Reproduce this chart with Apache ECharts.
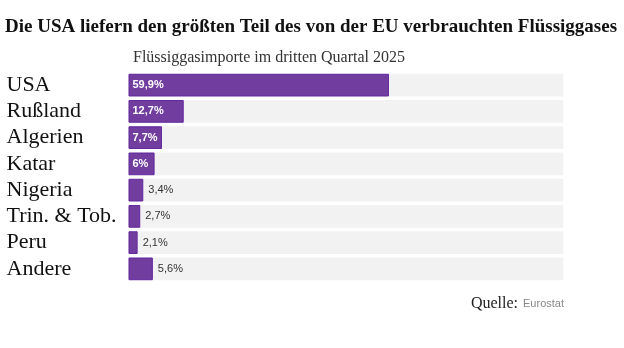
<!DOCTYPE html>
<html>
<head>
<meta charset="utf-8">
<script src="https://cdn.jsdelivr.net/npm/echarts@6/dist/echarts.min.js"></script>
<style>
  html, body { margin: 0; padding: 0; background: #fff; }
  #chart { width: 624px; height: 348px; }
</style>
</head>
<body>
<div id="chart"></div>
<script>
// LNG import shares by supplier country, Q3 2025 (percent)
const countries = ['USA', 'Rußland', 'Algerien', 'Katar', 'Nigeria', 'Trin. & Tob.', 'Peru', 'Andere'];
const shares = [59.9, 12.7, 7.7, 6, 3.4, 2.7, 2.1, 5.6];

const titleText = 'Die USA liefern den größten Teil des von der EU verbrauchten Flüssiggases';
const subtitleText = 'Flüssiggasimporte im dritten Quartal 2025';

const serif = '"Liberation Serif", "Times New Roman", serif';
const sans = '"Liberation Sans", Arial, sans-serif';

// Values wide enough to hold their label get it inside in white; the rest get it outside
const insideMin = 5.9;

const fmt = v => String(v).replace('.', ',') + '%';

const seriesData = shares.map(v => ({
  value: v,
  label: v >= insideMin
    ? { position: 'insideLeft', distance: 4, color: '#ffffff', fontWeight: 'bold' }
    : { position: 'right', distance: 5, color: '#333333', fontWeight: 'normal' }
}));

const chart = echarts.init(document.getElementById('chart'), null, { renderer: 'canvas' });

chart.setOption({
  animation: false,
  backgroundColor: '#ffffff',
  title: [
    {
      text: titleText,
      left: 5,
      top: 18,
      padding: 0,
      textStyle: { fontFamily: serif, fontSize: 19, fontWeight: 'bold', color: '#111111' }
    },
    {
      text: subtitleText,
      left: 133,
      top: 50,
      padding: 0,
      textStyle: { fontFamily: serif, fontSize: 16, fontWeight: 'normal', color: '#333333' }
    },
    {
      text: '{a|Quelle:} {b|Eurostat}',
      right: 60,
      top: 295,
      padding: 0,
      textStyle: {
        rich: {
          a: { fontFamily: serif, fontSize: 16, fontWeight: 'normal', color: '#222222' },
          b: { fontFamily: sans, fontSize: 11, fontWeight: 'normal', color: '#888888' }
        }
      }
    }
  ],
  grid: { left: 128.5, right: 60.7, top: 72, bottom: 66 },
  xAxis: {
    type: 'value',
    min: 0,
    max: 100,
    show: false
  },
  yAxis: {
    type: 'category',
    data: countries,
    inverse: true,
    axisLine: { show: false },
    axisTick: { show: false },
    splitLine: { show: false },
    axisLabel: {
      interval: 0,
      align: 'left',
      margin: 122,
      fontFamily: serif,
      fontSize: 22,
      color: '#111111'
    }
  },
  series: [{
    type: 'bar',
    data: seriesData,
    barCategoryGap: '13.5%',
    showBackground: true,
    backgroundStyle: { color: '#f2f2f2' },
    itemStyle: { color: '#713d9f', borderColor: '#6428a0', borderWidth: 1 },
    label: {
      show: true,
      fontFamily: sans,
      fontSize: 11,
      formatter: p => fmt(p.value)
    }
  }]
});
</script>
</body>
</html>
